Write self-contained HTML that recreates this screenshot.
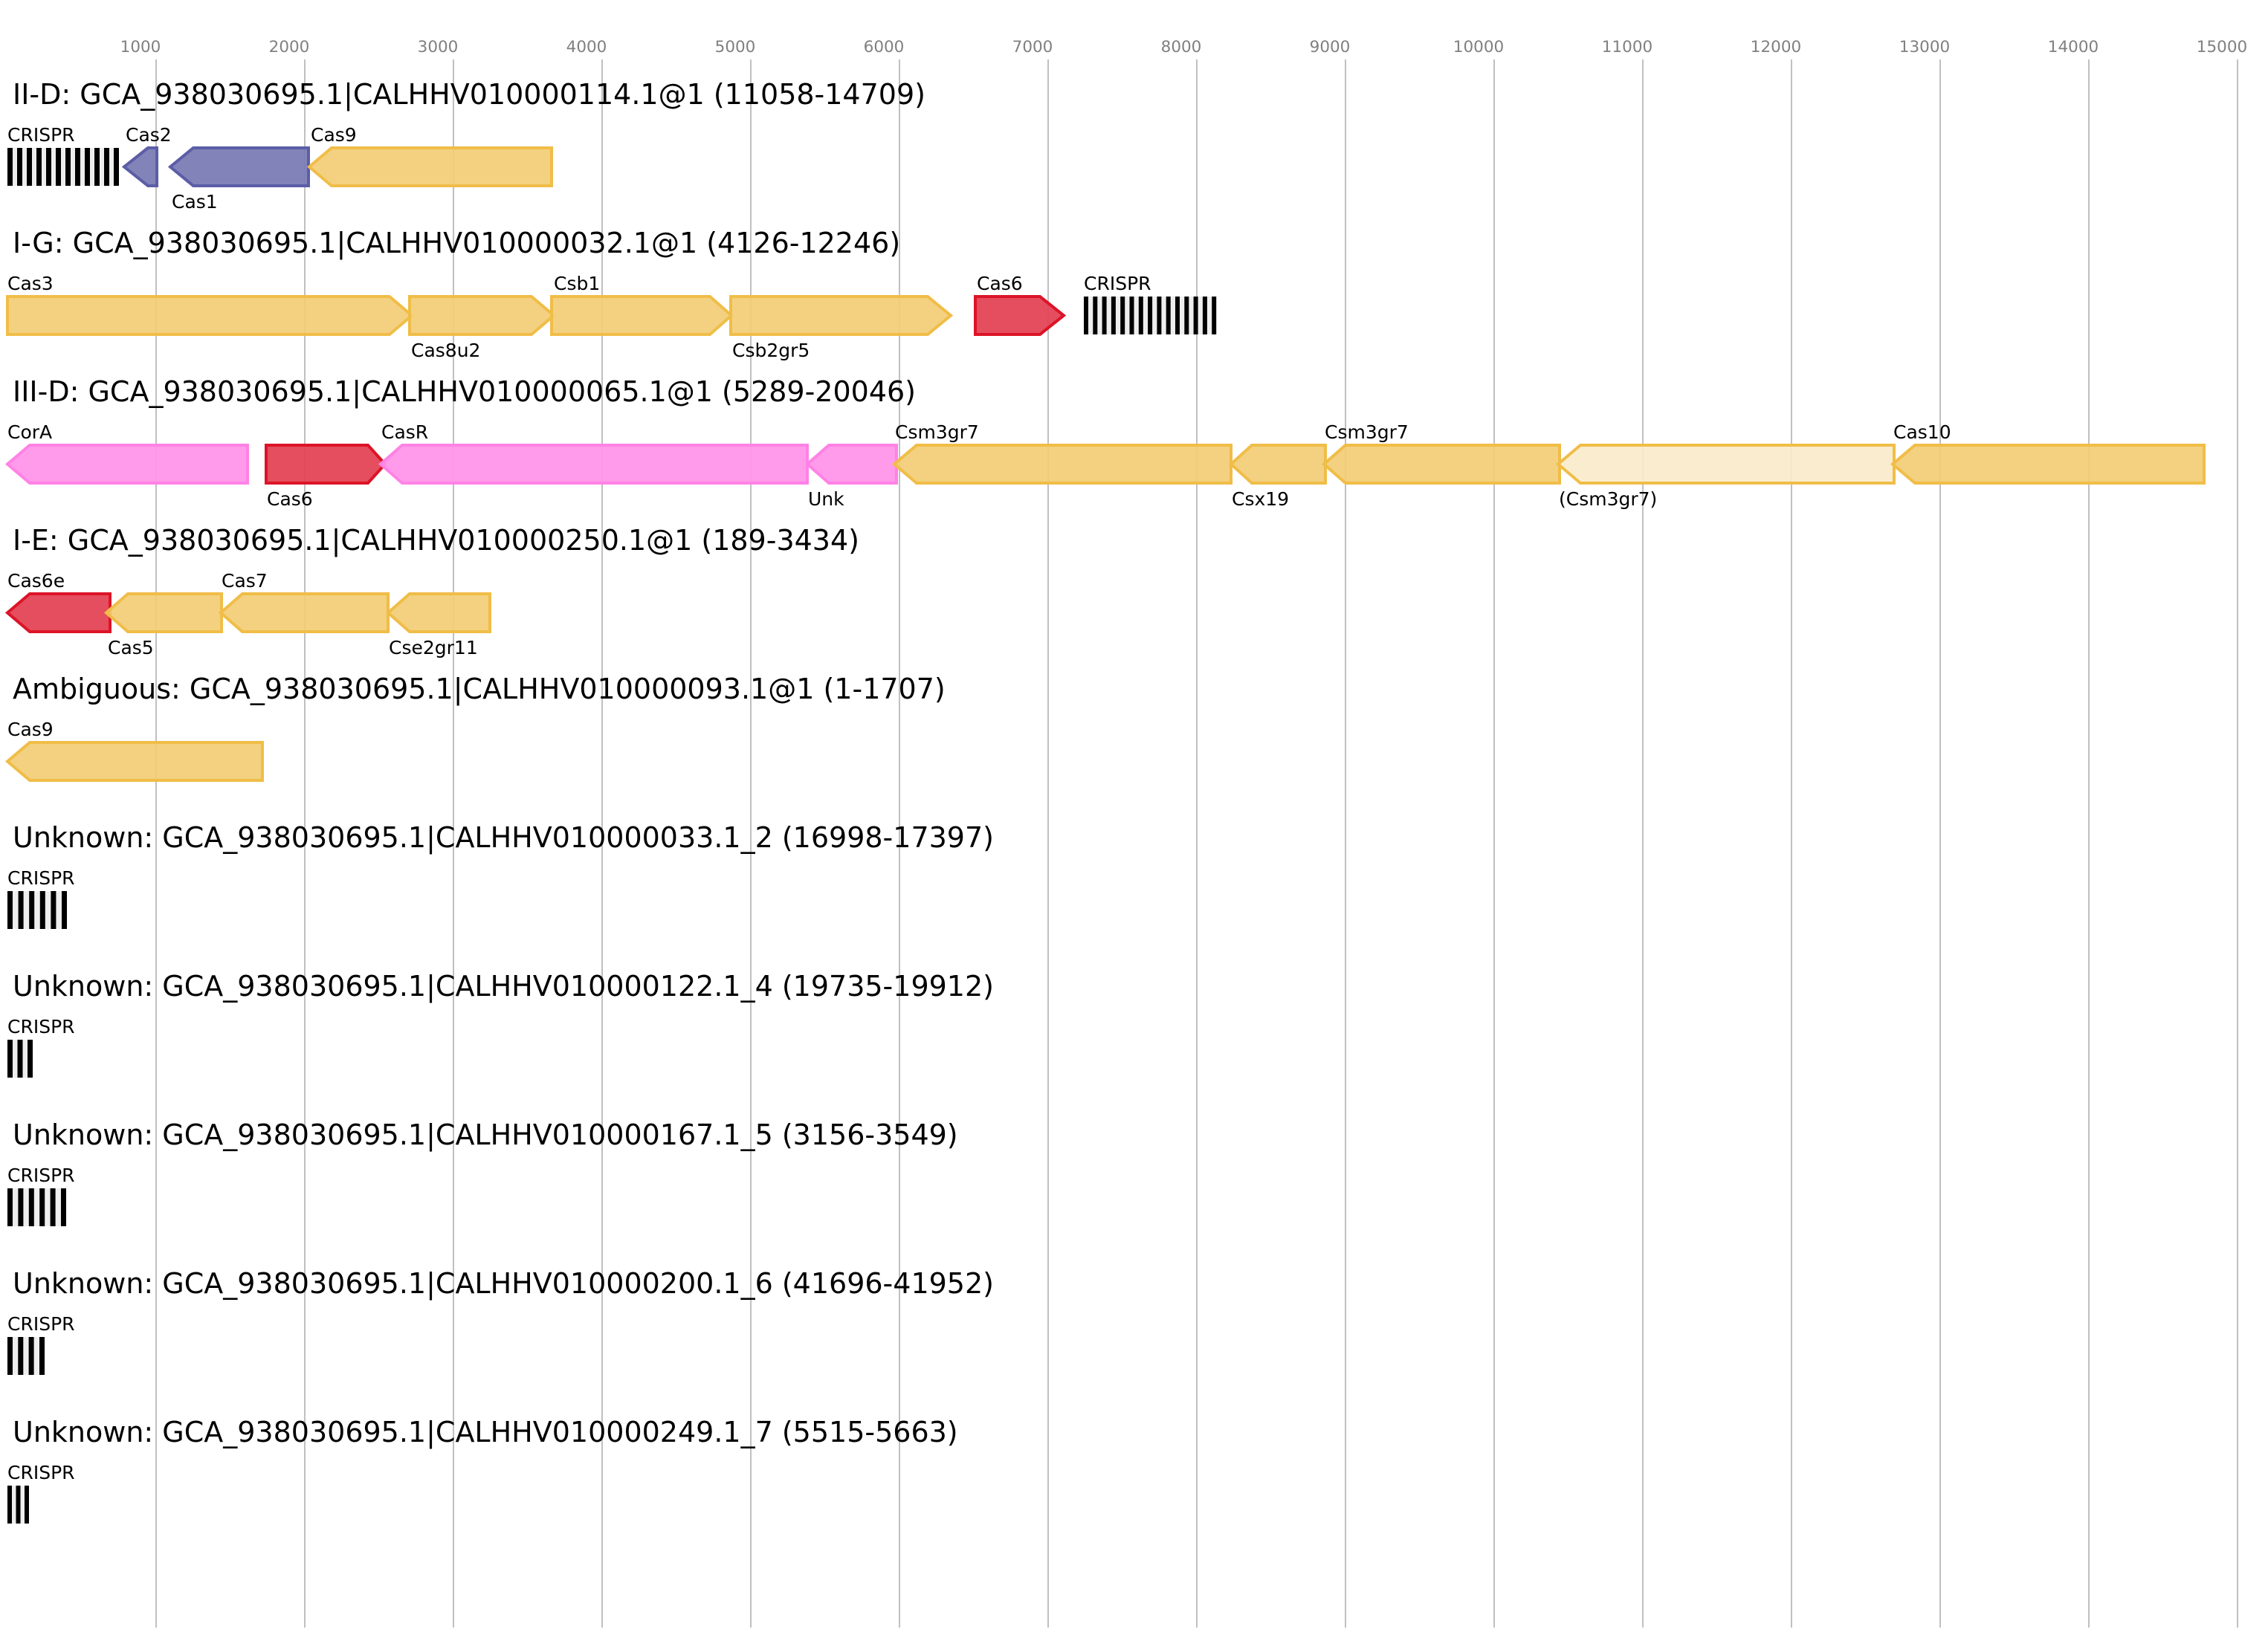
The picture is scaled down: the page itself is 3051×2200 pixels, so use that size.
<!DOCTYPE html>
<html><head><meta charset="utf-8">
<style>
html,body{margin:0;padding:0;background:#fff;}
svg{display:block;}
text{font-family:"DejaVu Sans","Liberation Sans",sans-serif;}
.t{font-size:38px;fill:#000;}
.l{font-size:25px;fill:#000;}
.k{font-size:21.5px;fill:#808080;text-anchor:middle;}
.y{fill:#f2cd76;stroke:#f0bd47;stroke-width:4;fill-opacity:0.92;}
.yl{fill:#faebcb;stroke:#f0bd47;stroke-width:4;fill-opacity:0.92;}
.p{fill:#7b7db5;stroke:#5b5ea6;stroke-width:4;fill-opacity:0.95;}
.r{fill:#e44555;stroke:#dc1428;stroke-width:4;fill-opacity:0.95;}
.m{fill:#ff96e9;stroke:#ff82e6;stroke-width:4;fill-opacity:0.95;}
.g line{stroke:#c0c0c0;stroke-width:2;}
</style></head><body>
<svg width="3051" height="2200" viewBox="0 0 3051 2200" xmlns="http://www.w3.org/2000/svg">
<rect width="3051" height="2200" fill="#fff"/>
<g class="g">
<line x1="210" y1="80" x2="210" y2="2190"/><line x1="410" y1="80" x2="410" y2="2190"/><line x1="610" y1="80" x2="610" y2="2190"/><line x1="810" y1="80" x2="810" y2="2190"/><line x1="1010" y1="80" x2="1010" y2="2190"/><line x1="1210" y1="80" x2="1210" y2="2190"/><line x1="1410" y1="80" x2="1410" y2="2190"/><line x1="1610" y1="80" x2="1610" y2="2190"/><line x1="1810" y1="80" x2="1810" y2="2190"/><line x1="2010" y1="80" x2="2010" y2="2190"/><line x1="2210" y1="80" x2="2210" y2="2190"/><line x1="2410" y1="80" x2="2410" y2="2190"/><line x1="2610" y1="80" x2="2610" y2="2190"/><line x1="2810" y1="80" x2="2810" y2="2190"/><line x1="3010" y1="80" x2="3010" y2="2190"/>
</g>
<g>
<text class="k" x="189" y="70">1000</text><text class="k" x="389" y="70">2000</text><text class="k" x="589" y="70">3000</text><text class="k" x="789" y="70">4000</text><text class="k" x="989" y="70">5000</text><text class="k" x="1189" y="70">6000</text><text class="k" x="1389" y="70">7000</text><text class="k" x="1589" y="70">8000</text><text class="k" x="1789" y="70">9000</text><text class="k" x="1989" y="70">10000</text><text class="k" x="2189" y="70">11000</text><text class="k" x="2389" y="70">12000</text><text class="k" x="2589" y="70">13000</text><text class="k" x="2789" y="70">14000</text><text class="k" x="2989" y="70">15000</text>
</g>

<text class="t" x="17" y="140">II-D: GCA_938030695.1|CALHHV010000114.1@1 (11058-14709)</text>
<rect x="10" y="199" width="150" height="51" fill="#eee"/>
<g fill="#000"><rect x="10" y="199" width="7" height="51"/><rect x="23" y="199" width="7" height="51"/><rect x="36" y="199" width="7" height="51"/><rect x="49" y="199" width="7" height="51"/><rect x="62" y="199" width="7" height="51"/><rect x="75" y="199" width="7" height="51"/><rect x="88" y="199" width="7" height="51"/><rect x="101" y="199" width="7" height="51"/><rect x="114" y="199" width="7" height="51"/><rect x="127" y="199" width="7" height="51"/><rect x="140" y="199" width="7" height="51"/><rect x="153" y="199" width="7" height="51"/></g>
<polygon class="p" points="167,224.5 199,199 211,199 211,250 199,250"/>
<polygon class="p" points="229,224.5 260,199 415,199 415,250 260,250"/>
<polygon class="y" points="416,224.5 446,199 742,199 742,250 446,250"/>
<text class="l" x="10" y="190">CRISPR</text><text class="l" x="169" y="190">Cas2</text><text class="l" x="231" y="280">Cas1</text><text class="l" x="418" y="190">Cas9</text>

<text class="t" x="17" y="340">I-G: GCA_938030695.1|CALHHV010000032.1@1 (4126-12246)</text>
<polygon class="y" points="10,399 524,399 554,424.5 524,450 10,450"/>
<polygon class="y" points="551,399 715,399 745,424.5 715,450 551,450"/>
<polygon class="y" points="742,399 955,399 984,424.5 955,450 742,450"/>
<polygon class="y" points="983,399 1248,399 1279,424.5 1248,450 983,450"/>
<polygon class="r" points="1312,399 1399,399 1431,424.5 1399,450 1312,450"/>
<rect x="1458" y="399" width="178" height="51" fill="#eee"/>
<g fill="#000"><rect x="1458" y="399" width="6" height="51"/><rect x="1470.3" y="399" width="6" height="51"/><rect x="1482.6" y="399" width="6" height="51"/><rect x="1494.9" y="399" width="6" height="51"/><rect x="1507.2" y="399" width="6" height="51"/><rect x="1519.5" y="399" width="6" height="51"/><rect x="1531.8" y="399" width="6" height="51"/><rect x="1544.1" y="399" width="6" height="51"/><rect x="1556.4" y="399" width="6" height="51"/><rect x="1568.7" y="399" width="6" height="51"/><rect x="1581" y="399" width="6" height="51"/><rect x="1593.3" y="399" width="6" height="51"/><rect x="1605.6" y="399" width="6" height="51"/><rect x="1617.9" y="399" width="6" height="51"/><rect x="1630.2" y="399" width="6" height="51"/></g>
<text class="l" x="10" y="390">Cas3</text><text class="l" x="553" y="480">Cas8u2</text><text class="l" x="745" y="390">Csb1</text><text class="l" x="985" y="480">Csb2gr5</text><text class="l" x="1314" y="390">Cas6</text><text class="l" x="1458" y="390">CRISPR</text>

<text class="t" x="17" y="540">III-D: GCA_938030695.1|CALHHV010000065.1@1 (5289-20046)</text>
<polygon class="m" points="10,624.5 40,599 333,599 333,650 40,650"/>
<polygon class="r" points="358,599 495,599 518,624.5 495,650 358,650"/>
<polygon class="m" points="512,624.5 541,599 1086,599 1086,650 541,650"/>
<polygon class="m" points="1086,624.5 1115,599 1206,599 1206,650 1115,650"/>
<polygon class="y" points="1203,624.5 1233,599 1656,599 1656,650 1233,650"/>
<polygon class="y" points="1656,624.5 1684,599 1783,599 1783,650 1684,650"/>
<polygon class="y" points="1781,624.5 1810,599 2098,599 2098,650 1810,650"/>
<polygon class="yl" points="2096,624.5 2126,599 2548,599 2548,650 2126,650"/>
<polygon class="y" points="2546,624.5 2576,599 2965,599 2965,650 2576,650"/>
<text class="l" x="10" y="590">CorA</text><text class="l" x="359" y="680">Cas6</text><text class="l" x="513" y="590">CasR</text><text class="l" x="1087" y="680">Unk</text><text class="l" x="1204" y="590">Csm3gr7</text><text class="l" x="1657" y="680">Csx19</text><text class="l" x="1782" y="590">Csm3gr7</text><text class="l" x="2097" y="680">(Csm3gr7)</text><text class="l" x="2547" y="590">Cas10</text>

<text class="t" x="17" y="740">I-E: GCA_938030695.1|CALHHV010000250.1@1 (189-3434)</text>
<polygon class="r" points="10,824.5 40,799 148,799 148,850 40,850"/>
<polygon class="y" points="143,824.5 172,799 298,799 298,850 172,850"/>
<polygon class="y" points="297,824.5 326,799 522,799 522,850 326,850"/>
<polygon class="y" points="522,824.5 551,799 659,799 659,850 551,850"/>
<text class="l" x="10" y="790">Cas6e</text><text class="l" x="145" y="880">Cas5</text><text class="l" x="298" y="790">Cas7</text><text class="l" x="523" y="880">Cse2gr11</text>

<text class="t" x="17" y="940">Ambiguous: GCA_938030695.1|CALHHV010000093.1@1 (1-1707)</text>
<polygon class="y" points="10,1024.5 40,999 353,999 353,1050 40,1050"/>
<text class="l" x="10" y="990">Cas9</text>

<text class="t" x="17" y="1140">Unknown: GCA_938030695.1|CALHHV010000033.1_2 (16998-17397)</text>
<text class="l" x="10" y="1190">CRISPR</text>
<rect x="10" y="1199" width="80" height="51" fill="#eee"/>
<g fill="#000"><rect x="10" y="1199" width="7" height="51"/><rect x="24.6" y="1199" width="7" height="51"/><rect x="39.2" y="1199" width="7" height="51"/><rect x="53.8" y="1199" width="7" height="51"/><rect x="68.4" y="1199" width="7" height="51"/><rect x="83" y="1199" width="7" height="51"/></g>

<text class="t" x="17" y="1340">Unknown: GCA_938030695.1|CALHHV010000122.1_4 (19735-19912)</text>
<text class="l" x="10" y="1390">CRISPR</text>
<rect x="10" y="1399" width="34" height="51" fill="#eee"/>
<g fill="#000"><rect x="10" y="1399" width="7" height="51"/><rect x="23.5" y="1399" width="7" height="51"/><rect x="37" y="1399" width="7" height="51"/></g>

<text class="t" x="17" y="1540">Unknown: GCA_938030695.1|CALHHV010000167.1_5 (3156-3549)</text>
<text class="l" x="10" y="1590">CRISPR</text>
<rect x="10" y="1599" width="79" height="51" fill="#eee"/>
<g fill="#000"><rect x="10" y="1599" width="7" height="51"/><rect x="24.4" y="1599" width="7" height="51"/><rect x="38.8" y="1599" width="7" height="51"/><rect x="53.2" y="1599" width="7" height="51"/><rect x="67.6" y="1599" width="7" height="51"/><rect x="82" y="1599" width="7" height="51"/></g>

<text class="t" x="17" y="1740">Unknown: GCA_938030695.1|CALHHV010000200.1_6 (41696-41952)</text>
<text class="l" x="10" y="1790">CRISPR</text>
<rect x="10" y="1799" width="50" height="51" fill="#eee"/>
<g fill="#000"><rect x="10" y="1799" width="7" height="51"/><rect x="24.3" y="1799" width="7" height="51"/><rect x="38.6" y="1799" width="7" height="51"/><rect x="53" y="1799" width="7" height="51"/></g>

<text class="t" x="17" y="1940">Unknown: GCA_938030695.1|CALHHV010000249.1_7 (5515-5663)</text>
<text class="l" x="10" y="1990">CRISPR</text>
<rect x="10" y="1999" width="29" height="51" fill="#eee"/>
<g fill="#000"><rect x="10" y="1999" width="6" height="51"/><rect x="21.5" y="1999" width="6" height="51"/><rect x="33" y="1999" width="6" height="51"/></g>
</svg>
</body></html>
